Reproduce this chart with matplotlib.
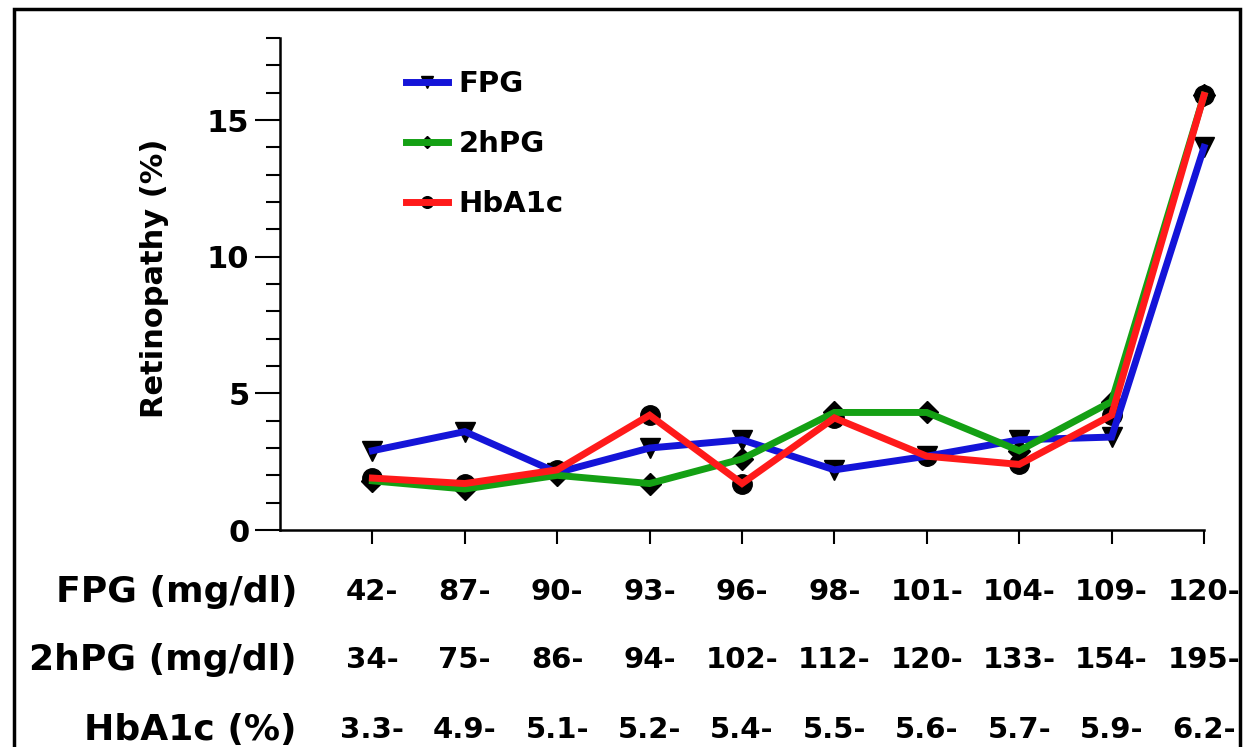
import matplotlib
matplotlib.use("Agg")
import matplotlib.pyplot as plt
from matplotlib.lines import Line2D
from matplotlib.legend_handler import HandlerTuple
from matplotlib.patches import Rectangle
from matplotlib.ticker import MultipleLocator
import numpy as np

plt.rcParams['font.family'] = ['DejaVu Sans']
plt.rcParams['font.weight'] = 'bold'

series_names = ["FPG", "2hPG", "HbA1c"]
fpg = [2.9, 3.6, 2.1, 3.0, 3.3, 2.2, 2.7, 3.3, 3.4, 14.0]
hpg2 = [1.8, 1.5, 2.0, 1.7, 2.6, 4.3, 4.3, 2.9, 4.7, 15.9]
hba1c = [1.9, 1.7, 2.2, 4.2, 1.7, 4.1, 2.7, 2.4, 4.2, 15.9]

row_labels = ["FPG (mg/dl)", "2hPG (mg/dl)", "HbA1c (%)"]
fpg_cats = ["42-", "87-", "90-", "93-", "96-", "98-", "101-", "104-", "109-", "120-"]
hpg2_cats = ["34-", "75-", "86-", "94-", "102-", "112-", "120-", "133-", "154-", "195-"]
hba1c_cats = ["3.3-", "4.9-", "5.1-", "5.2-", "5.4-", "5.5-", "5.6-", "5.7-", "5.9-", "6.2-"]

W, H = 1243, 747
fig = plt.figure(figsize=(W / 100, H / 100), dpi=100)
fig.patch.set_facecolor('white')

ax = fig.add_axes([280 / W, 1 - 530 / H, (1204 - 280) / W, (530 - 38) / H])
x = np.arange(len(fpg))

colors = {"FPG": "#1414d8", "2hPG": "#14a014", "HbA1c": "#ff1a1a"}
markers = {"FPG": "v", "2hPG": "D", "HbA1c": "o"}
msizes = {"FPG": 14, "2hPG": 11, "HbA1c": 14}
data = {"FPG": fpg, "2hPG": hpg2, "HbA1c": hba1c}

for name in series_names:
    ax.plot(x, data[name], linestyle='none', marker=markers[name],
            markersize=msizes[name], color='black', zorder=2, clip_on=False)
for name in series_names:
    ax.plot(x, data[name], color=colors[name], linewidth=5,
            solid_joinstyle='miter', zorder=3, clip_on=False)

handles = []
for name in series_names:
    hm = Line2D([], [], linestyle='none', marker=markers[name],
                markersize=msizes[name] * 0.6, color='black')
    hl = Line2D([], [], color=colors[name], linewidth=5)
    handles.append((hm, hl))

leg = ax.legend(handles, series_names,
                handler_map={tuple: HandlerTuple(ndivide=1, pad=0)},
                loc='upper left', bbox_to_anchor=(406 / W, 1 - 70 / H),
                bbox_transform=fig.transFigure, frameon=False,
                fontsize=21, handlelength=1.45, handletextpad=0.35,
                labelspacing=1.1, borderpad=0, borderaxespad=0)
for t in leg.get_texts():
    t.set_fontweight('bold')

ax.set_xlim(-1, 9)
ax.set_ylim(0, 18)
ax.set_xticks(x)
ax.set_xticklabels([])
ax.set_yticks([0, 5, 10, 15])
ax.yaxis.set_minor_locator(MultipleLocator(1))
ax.tick_params(axis='y', which='major', length=18, width=1.5, labelsize=22, pad=4)
ax.tick_params(axis='y', which='minor', length=10, width=1.5)
ax.tick_params(axis='x', which='major', length=10, width=1.5)
for lab in ax.get_yticklabels():
    lab.set_fontweight('bold')
for s in ['top', 'right']:
    ax.spines[s].set_visible(False)
for s in ['left', 'bottom']:
    ax.spines[s].set_linewidth(1.8)

ax.set_ylabel("Retinopathy (%)", fontsize=22, fontweight='bold')
ax.yaxis.set_label_coords(-0.12, 0.512)

# category table under the axis
row_y = [1 - 592 / H, 1 - 660 / H, 1 - 730 / H]
cat_rows = [fpg_cats, hpg2_cats, hba1c_cats]
for ry, lab, cats in zip(row_y, row_labels, cat_rows):
    fig.text(297 / W, ry, lab, ha='right', va='center', fontsize=26, fontweight='bold')
    for xi, c in zip(x, cats):
        px = ax.transData.transform((xi, 0))[0]
        fig.text(px / W, ry, c, ha='center', va='center', fontsize=21, fontweight='bold')

# outer frame
fig.patches.append(Rectangle((14 / W, -0.05), (1240 - 14) / W, 1 - 9 / H + 0.05,
                             transform=fig.transFigure, fill=False,
                             edgecolor='black', linewidth=2.5))

fig.savefig("out.png", dpi=100)
